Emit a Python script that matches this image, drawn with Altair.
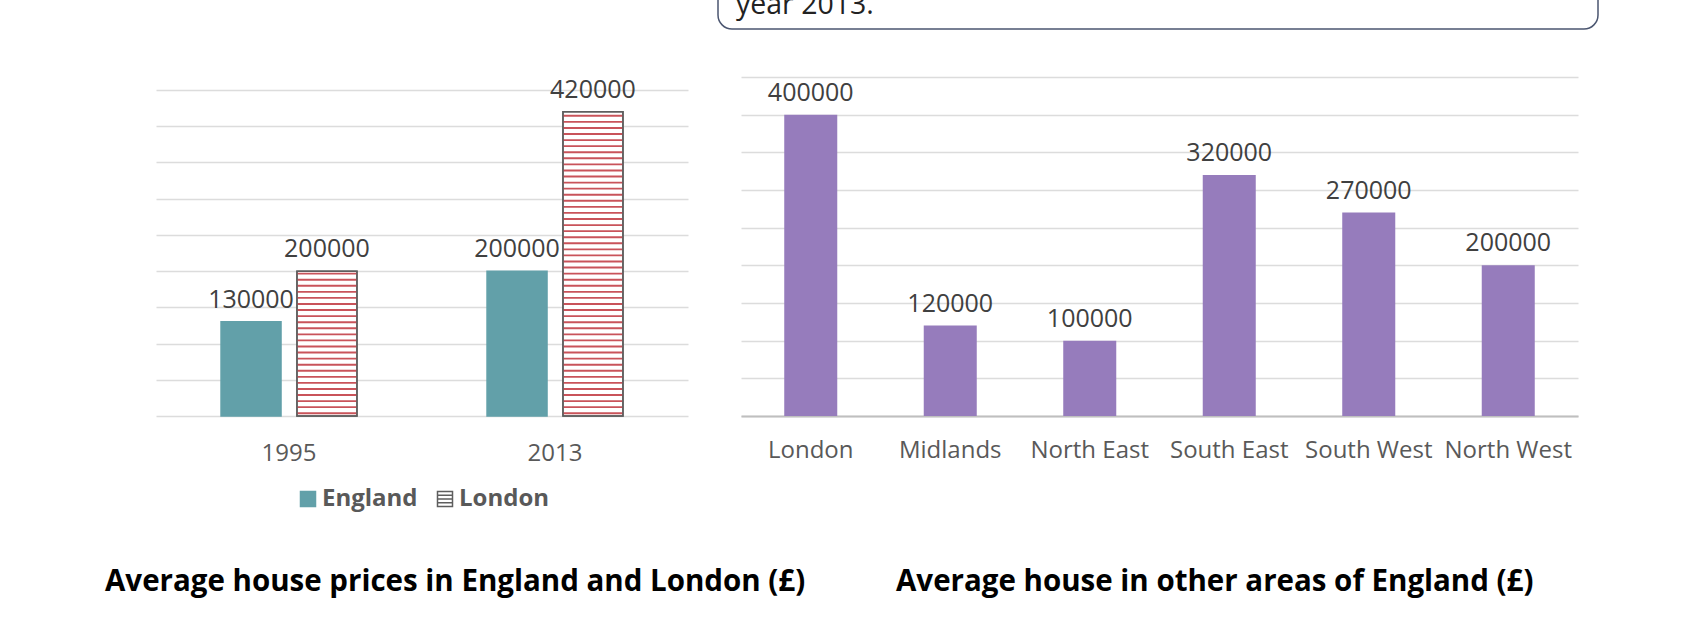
import altair as alt
import pandas as pd

# ---------------- data ----------------
years = ["1995", "2013"]
series_names = ["England", "London"]
england_prices = [130000, 200000]
london_prices = [200000, 420000]

regions = ["London", "Midlands", "North East", "South East", "South West", "North West"]
region_prices = [400000, 120000, 100000, 320000, 270000, 200000]

grid_values = [0, 50000, 100000, 150000, 200000, 250000, 300000, 350000, 400000, 450000]

title_left = ["Average house prices in England and London (£)"]
title_right = ["Average house in other areas of England (£)"]
box_text = ["year 2013."]

# ---------------- styles ----------------
FONT = "Open Sans"
TEAL = "#62A0A9"
PURPLE = "#967CBC"
RED = "#C9535A"
OUTLINE = "#5E5E5E"
GRID = "#DCDCDC"
LABEL = "#595959"
VALUE = "#404040"

left_df = pd.DataFrame({
    "year": years * 2,
    "series": ["England"] * len(years) + ["London"] * len(years),
    "value": england_prices + london_prices,
})
right_df = pd.DataFrame({"region": regions, "price": region_prices})

y_axis = alt.Axis(values=grid_values, labels=False, ticks=False, domain=False, title=None,
                  grid=True, gridColor=GRID, gridWidth=1.5)

# ---------------- left chart ----------------
lx = alt.X("year:N", scale=alt.Scale(paddingInner=0.489, paddingOuter=0.2445),
           axis=alt.Axis(title=None, labelAngle=0, ticks=False, domain=False, grid=False,
                         labelFontSize=24, labelColor=LABEL, labelFont=FONT, labelPadding=25))
lxo = alt.XOffset("series:N", scale=alt.Scale(domain=series_names, paddingInner=0.21))
ly = alt.Y("value:Q", scale=alt.Scale(domain=[0, 468000], nice=False, zero=True), axis=y_axis)

legend_def = alt.Legend(orient="none", legendX=140, legendY=487, direction="horizontal", title=None,
                        symbolType="M-1,-1H1V1H-1Z M-1,-0.5H1 M-1,0H1 M-1,0.5H1",
                        symbolSize=225, symbolStrokeWidth=1.5, labelFontSize=24,
                        labelFontWeight="bold", labelColor=LABEL, labelFont=FONT,
                        columnPadding=15, labelOffset=2)

base_left = alt.Chart(left_df)
bars_left = base_left.mark_bar(strokeWidth=1.5).encode(
    x=lx, xOffset=lxo, y=ly,
    fill=alt.Fill("series:N", scale=alt.Scale(domain=series_names, range=[TEAL, "white"]), legend=legend_def),
    stroke=alt.Stroke("series:N", scale=alt.Scale(domain=series_names, range=[TEAL, OUTLINE]), legend=legend_def),
)
stripes = base_left.transform_filter("datum.series == 'London'").transform_calculate(
    stripe="sequence(2500, datum.value - 3000, 8380)"
).transform_flatten(["stripe"]).transform_calculate(
    stripe_top="datum.stripe + 2600"
).mark_bar(color=RED).encode(
    x=lx, xOffset=lxo,
    y=alt.Y("stripe:Q", scale=alt.Scale(domain=[0, 468000], nice=False, zero=True), axis=y_axis),
    y2="stripe_top:Q",
)
outline = base_left.transform_filter("datum.series == 'London'").mark_bar(
    fill="transparent", stroke=OUTLINE, strokeWidth=1.5
).encode(x=lx, xOffset=lxo, y=ly)
labels_left = base_left.mark_text(dy=-14, baseline="alphabetic", fontSize=25, color=VALUE, font=FONT).encode(
    x=lx, xOffset=lxo, y=ly, text=alt.Text("value:Q", format="d")
)
ttl_left = alt.Chart(pd.DataFrame({"t": title_left})).mark_text(
    align="left", baseline="alphabetic", fontSize=29.5, fontWeight="bold", color="black", font=FONT
).encode(x=alt.value(-51), y=alt.value(514), text="t:N")

left = alt.layer(bars_left, stripes, outline, labels_left, ttl_left).properties(width=532, height=339)

# ---------------- right chart ----------------
rx = alt.X("region:N", sort=regions, scale=alt.Scale(paddingInner=0.62, paddingOuter=0.31),
           axis=alt.Axis(title=None, labelAngle=0, ticks=False, domain=True, domainColor="#BFBFBF",
                         domainWidth=2, grid=False, labelFontSize=24, labelColor=LABEL, labelFont=FONT,
                         labelPadding=22.5))
ry = alt.Y("price:Q", scale=alt.Scale(domain=[0, 450000], nice=False, zero=True), axis=y_axis)
base_right = alt.Chart(right_df)
bars_right = base_right.mark_bar(color=PURPLE).encode(x=rx, y=ry)
labels_right = base_right.mark_text(dy=-14, baseline="alphabetic", fontSize=25, color=VALUE, font=FONT).encode(
    x=rx, y=ry, text=alt.Text("price:Q", format="d")
)
ttl_right = alt.Chart(pd.DataFrame({"t": title_right})).mark_text(
    align="left", baseline="alphabetic", fontSize=29.5, fontWeight="bold", color="black", font=FONT
).encode(x=alt.value(155), y=alt.value(514), text="t:N")

right = alt.layer(bars_right, labels_right, ttl_right).properties(width=837, height=339)

# ---------------- top box (clipped) ----------------
box_df = pd.DataFrame({"t": box_text})
box = alt.Chart(box_df).mark_rect(clip=True, fill="white", stroke="#4B5670", strokeWidth=1.5,
                                  cornerRadius=14).encode(
    x=alt.value(562), x2=alt.value(1442), y=alt.value(-40), y2=alt.value(29)
)
box_txt = alt.Chart(box_df).mark_text(clip=True, align="left", baseline="alphabetic", fontSize=28.5,
                                      color="#222222", font=FONT).encode(
    x=alt.value(580), y=alt.value(14), text="t:N"
)
top = alt.layer(box, box_txt).properties(width=1500, height=30)

bottom = alt.hconcat(left, right, spacing=53, bounds="flush")

chart = alt.vconcat(top, bottom, spacing=47).properties(
    padding={"left": 105, "top": 0, "right": 0, "bottom": 12},
    background="white",
).configure(font=FONT).configure_view(stroke="transparent", strokeWidth=0)

chart.save("out.html", embed_options={"renderer": "svg", "actions": False})
